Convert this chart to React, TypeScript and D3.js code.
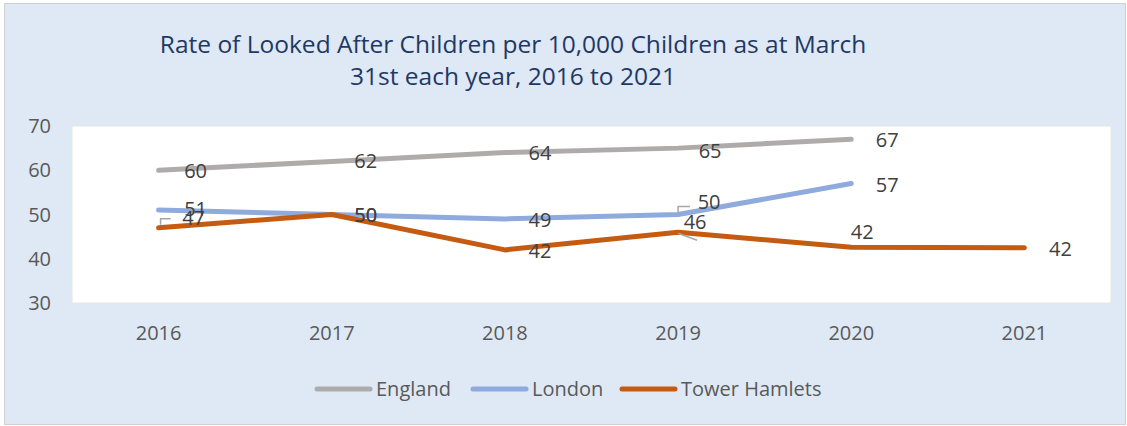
import React from "react";
import * as d3 from "d3";

const years = ["2016", "2017", "2018", "2019", "2020", "2021"];
const england: (number | null)[] = [60, 62, 64, 65, 67, null];
const london: (number | null)[] = [51, 50, 49, 50, 57, null];
const towerHamlets: (number | null)[] = [47, 50, 42, 46, 42.6, 42.5];
const labelsEngland = ["60", "62", "64", "65", "67", ""];
const labelsLondon = ["51", "50", "49", "50", "57", ""];
const labelsTH = ["47", "50", "42", "46", "42", "42"];
const yTicks = [30, 40, 50, 60, 70];

const W = 1127, H = 426;
const plot = { left: 72, right: 1111, top: 126, bottom: 303 };
const FONT = "'Open Sans', 'Noto Sans', sans-serif";

export default function App() {
  const x = d3.scaleBand<string>().domain(years).range([plot.left, plot.right]);
  const cx = (y: string) => (x(y) as number) + x.bandwidth() / 2;
  const y = d3.scaleLinear().domain([30, 70]).range([plot.bottom, plot.top]);

  const series = [
    { name: "England", data: england, labels: labelsEngland, color: "#afabab",
      off: [[37, 1], [34, 0], [35, 0], [32, 3], [36, 1], [0, 0]] },
    { name: "London", data: london, labels: labelsLondon, color: "#8faadc",
      off: [[37, -1], [34, 0], [35, 1], [31, -13], [36, 1], [0, 0]] },
    { name: "Tower Hamlets", data: towerHamlets, labels: labelsTH, color: "#c55a11",
      off: [[35, -10], [34, 0], [35, 1], [17, -10], [11, -15], [36, 1]] },
  ];

  const line = d3.line<number | null>()
    .defined((d) => d !== null)
    .x((_, i) => cx(years[i]))
    .y((d) => y(d as number));

  const legendItems = [
    { name: "England", color: "#afabab", x: 317 },
    { name: "London", color: "#8faadc", x: 473 },
    { name: "Tower Hamlets", color: "#c55a11", x: 622 },
  ];

  return (
    <div style={{ position: "fixed", left: 0, top: 0 }}>
      <svg width={W} height={H} style={{ display: "block", fontFamily: FONT }}>
        <rect x={4.5} y={3.5} width={1121} height={421} fill="#dee9f5" stroke="#d0d0d0" />
        <text x={513} y={53} textAnchor="middle" fontSize={24.5} fill="#1f3864">
          Rate of Looked After Children per 10,000 Children as at March
        </text>
        <text x={513} y={85} textAnchor="middle" fontSize={24.5} fill="#1f3864">
          31st each year, 2016 to 2021
        </text>
        <rect x={plot.left} y={plot.top} width={plot.right - plot.left} height={plot.bottom - plot.top}
          fill="#ffffff" stroke="#e6e6e6" />
        {yTicks.map((t) => (
          <text key={t} x={51} y={y(t)} dy="0.35em" textAnchor="end" fontSize={20} fill="#595959">{t}</text>
        ))}
        {years.map((yr) => (
          <text key={yr} x={cx(yr)} y={333} dy="0.35em" textAnchor="middle" fontSize={20} fill="#595959">{yr}</text>
        ))}
        {series.map((s) => (
          <path key={s.name} d={line(s.data) || ""} fill="none" stroke={s.color} strokeWidth={5}
            strokeLinecap="round" strokeLinejoin="round" />
        ))}
        {/* leader lines */}
        <path d={`M${cx("2016") + 2},${y(47) - 3} L${cx("2016") + 2},${y(47) - 9} L${cx("2016") + 12},${y(47) - 9}`}
          fill="none" stroke="#a6a6a6" strokeWidth={1.5} />
        <path d={`M${cx("2019")},${y(50) - 1} L${cx("2019")},${y(50) - 8} L${cx("2019") + 12},${y(50) - 8}`}
          fill="none" stroke="#a6a6a6" strokeWidth={1.5} />
        <path d={`M${cx("2019")},${y(46) + 1} L${cx("2019") + 19},${y(46) + 8}`}
          fill="none" stroke="#a6a6a6" strokeWidth={1.5} />
        {series.map((s) =>
          s.data.map((v, i) =>
            v === null ? null : (
              <text key={s.name + i} x={cx(years[i]) + s.off[i][0]} y={y(v) + s.off[i][1]} dy="0.35em"
                textAnchor="middle" fontSize={20} fill="#404040">{s.labels[i]}</text>
            )
          )
        )}
        {legendItems.map((l) => (
          <g key={l.name}>
            <line x1={l.x} x2={l.x + 53} y1={389} y2={389} stroke={l.color} strokeWidth={5} strokeLinecap="round" />
            <text x={l.x + 59} y={389} dy="0.35em" fontSize={20} fill="#595959">{l.name}</text>
          </g>
        ))}
      </svg>
    </div>
  );
}
